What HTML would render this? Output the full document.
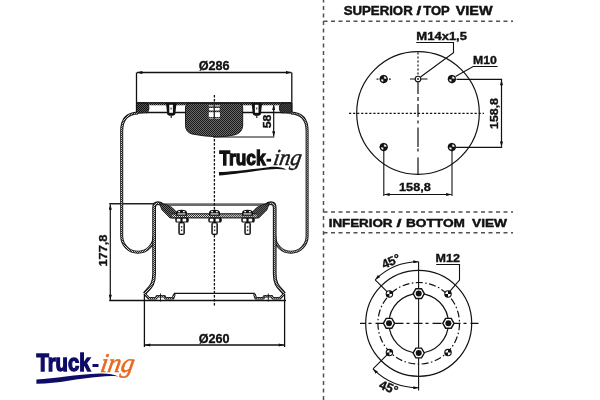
<!DOCTYPE html>
<html><head><meta charset="utf-8">
<style>
html,body{margin:0;padding:0;background:#fff;width:600px;height:400px;overflow:hidden}
svg{display:block;will-change:transform}
.ttl text{stroke-width:0.45px}
text{font-family:"Liberation Sans",sans-serif;font-weight:bold;fill:#111;stroke:#111;stroke-width:0.35px}
</style></head><body>
<svg width="600" height="400" viewBox="0 0 600 400">
<defs>
<marker id="ar" viewBox="0 0 10 6" refX="10" refY="3" markerWidth="6" markerHeight="3.2" orient="auto-start-reverse" markerUnits="userSpaceOnUse">
<path d="M0 0 L10 3 L0 6 Z" fill="#111"/>
</marker>
<pattern id="chk" width="2" height="2" patternUnits="userSpaceOnUse"><rect width="2" height="2" fill="#fff"/><rect width="1" height="1" fill="#111"/><rect x="1" y="1" width="1" height="1" fill="#111"/></pattern>
<pattern id="chkw" width="2" height="2" patternUnits="userSpaceOnUse"><rect width="2" height="2" fill="#ddd"/><rect width="1" height="1" fill="#333"/><rect x="1" y="1" width="1" height="1" fill="#333"/></pattern>
<pattern id="chkd" width="2" height="2" patternUnits="userSpaceOnUse"><rect width="2" height="2" fill="#888"/><rect width="1" height="1" fill="#111"/><rect x="1" y="1" width="1" height="1" fill="#111"/></pattern>
<pattern id="chkb" width="2" height="2" patternUnits="userSpaceOnUse"><rect width="2" height="2" fill="#6a6a6a"/><rect width="1" height="1" fill="#1a1a1a"/><rect x="1" y="1" width="1" height="1" fill="#1a1a1a"/></pattern>
<pattern id="chkx" width="2" height="2" patternUnits="userSpaceOnUse"><rect width="2" height="2" fill="#555"/><rect width="1" height="1" fill="#111"/><rect x="1" y="1" width="1" height="1" fill="#111"/></pattern>
</defs>

<!-- ===== frame dashed lines ===== -->
<g stroke="#505050" stroke-width="1.5" fill="none" stroke-dasharray="4 3.5">
<line x1="323.5" y1="-1" x2="323.5" y2="401" stroke-dashoffset="0.5"/>
<line x1="323.5" y1="21.2" x2="513" y2="21.2"/>
<line x1="323.5" y1="212" x2="513" y2="212"/>
<line x1="323.5" y1="232.8" x2="513" y2="232.8"/>
</g>

<!-- titles -->
<g font-size="12" class="ttl">
<text x="343.7" y="15.3" textLength="69" lengthAdjust="spacingAndGlyphs">SUPERIOR</text>
<text x="416.5" y="15.3" textLength="4.8" lengthAdjust="spacingAndGlyphs">/</text>
<text x="423.2" y="15.3" textLength="26.5" lengthAdjust="spacingAndGlyphs">TOP</text>
<text x="455.75" y="15.3" textLength="36.75" lengthAdjust="spacingAndGlyphs">VIEW</text>
</g>
<g font-size="11.6" class="ttl">
<text x="328.7" y="227.3" textLength="63.8" lengthAdjust="spacingAndGlyphs">INFERIOR</text>
<text x="396.5" y="227.3" textLength="5" lengthAdjust="spacingAndGlyphs">/</text>
<text x="406" y="227.3" textLength="59" lengthAdjust="spacingAndGlyphs">BOTTOM</text>
<text x="472" y="227.3" textLength="35" lengthAdjust="spacingAndGlyphs">VIEW</text>
</g>

<!-- ===== TOP VIEW ===== -->
<g fill="none" stroke="#111">
<circle cx="418" cy="113" r="61.3" stroke-width="1.2"/>
<line x1="418" y1="52.5" x2="418" y2="76" stroke-width="1.2" stroke-dasharray="2 2"/>
<line x1="418" y1="82" x2="418" y2="174.5" stroke-width="1.2" stroke-dasharray="12 3 4 3 13 3.5 3 4 19.5 1.5 3 6 20"/>
<line x1="349" y1="113.3" x2="484" y2="113.3" stroke-width="1.3" stroke-dasharray="2.2 1.85"/>
<!-- crosshair ticks -->
<path d="M376.6 79.1 H378.4 M389 79.1 H390.8" stroke-width="1.2"/>
<line x1="410" y1="79" x2="427.5" y2="79" stroke-width="1"/>
<!-- extension lines -->
<line x1="456.5" y1="79.4" x2="502.2" y2="79.4" stroke-width="1.2"/>
<line x1="456" y1="147.4" x2="502.2" y2="147.4" stroke-width="1.2"/>
<line x1="383.8" y1="151" x2="383.8" y2="196" stroke-width="1.1"/>
<line x1="452" y1="151" x2="452" y2="196" stroke-width="1.1"/>
<!-- dim lines -->
<line x1="501.5" y1="80" x2="501.5" y2="146.8" stroke-width="1.2" marker-start="url(#ar)" marker-end="url(#ar)"/>
<line x1="384.3" y1="194.5" x2="451.5" y2="194.5" stroke-width="1.1" marker-start="url(#ar)" marker-end="url(#ar)"/>
<!-- leaders -->
<polyline points="416.3,42.5 453.5,42.5 453.5,52.6 420.5,77" stroke-width="1.1"/>
<polyline points="497.5,66.5 473.1,66.5 455.5,76.5" stroke-width="1.1"/>
</g>
<!-- holes -->
<g id="hole">
<circle cx="383.7" cy="79.1" r="3.4" fill="#fff" stroke="#111" stroke-width="1.3"/>
<path d="M383.7 79.1 L380.3 79.1 A3.4 3.4 0 0 1 383.7 75.7 Z M383.7 79.1 L387.1 79.1 A3.4 3.4 0 0 1 383.7 82.5 Z" fill="#111"/>
<path d="M383.7 74.8 V83.4 M379.4 79.1 H388" stroke="#111" stroke-width="0.8"/>
</g>
<use href="#hole" x="68.2" y="0"/>
<use href="#hole" x="0" y="68"/>
<use href="#hole" x="68.2" y="68"/>
<circle cx="418" cy="79" r="2.8" fill="#fff" stroke="#111" stroke-width="1.1"/>
<circle cx="418" cy="79" r="0.9" fill="#111"/>

<text x="416.3" y="40.4" font-size="10.2" textLength="50.7" lengthAdjust="spacingAndGlyphs">M14x1,5</text>
<text x="473.1" y="64.4" font-size="11" textLength="23.8" lengthAdjust="spacingAndGlyphs">M10</text>
<text x="399" y="190.8" font-size="11.6" textLength="31.8" lengthAdjust="spacingAndGlyphs">158,8</text>
<text transform="translate(498,129) rotate(-90)" font-size="11.2" textLength="31" lengthAdjust="spacingAndGlyphs">158,8</text>

<!-- ===== BOTTOM VIEW ===== -->
<g fill="none" stroke="#111">
<circle cx="418.7" cy="323.3" r="53" stroke-width="1.2"/>
<circle cx="418.7" cy="323.3" r="40.8" stroke-width="1.2" stroke-dasharray="7 2.5 1.5 2.5"/>
<circle cx="418.7" cy="323.3" r="29.7" stroke-width="1.2"/>
<line x1="360" y1="323.3" x2="478.5" y2="323.3" stroke-width="1.2" stroke-dasharray="9 3 3 4" stroke-dashoffset="3.5"/>
<line x1="418.6" y1="261.8" x2="418.6" y2="390.5" stroke-width="1.1"/>
<!-- 45 arcs -->
<path d="M418.6 261.8 A61.5 61.5 0 0 0 375.2 279.8" stroke-width="1.1" marker-start="url(#ar)" marker-end="url(#ar)"/>
<path d="M418.6 387.8 A64.5 64.5 0 0 1 373 368.9" stroke-width="1.1" marker-start="url(#ar)" marker-end="url(#ar)"/>
<line x1="375.2" y1="279.8" x2="390" y2="294.6" stroke-width="1.1"/>
<line x1="373" y1="368.9" x2="390" y2="351.9" stroke-width="1.1"/>
<polyline points="436.2,264.5 459.5,264.5 459.5,280 449.4,291.9" stroke-width="1.1"/>
</g>
<!-- small holes -->
<g id="sh">
<circle cx="389.4" cy="294" r="3.2" fill="#fff" stroke="#111" stroke-width="1.1"/>
<path d="M389.4 294 L389.4 290.8 A3.2 3.2 0 0 1 392.6 294 Z M389.4 294 L389.4 297.2 A3.2 3.2 0 0 1 386.2 294 Z" fill="#111"/>
</g>
<use href="#sh" x="58.6" y="0"/>
<use href="#sh" x="0" y="58.6"/>
<use href="#sh" x="58.6" y="58.6"/>
<!-- hex nuts -->
<g id="hx">
<polygon points="424.3,293.6 421.5,298.5 415.9,298.5 413.1,293.6 415.9,288.7 421.5,288.7" fill="#fff" stroke="#111" stroke-width="1.4"/>
<circle cx="418.7" cy="293.6" r="3" fill="#111"/>
</g>
<use href="#hx" x="0" y="59.4"/>
<use href="#hx" x="-29.7" y="29.7"/>
<use href="#hx" x="29.7" y="29.7"/>

<text x="435.6" y="261.9" font-size="11" textLength="24.4" lengthAdjust="spacingAndGlyphs">M12</text>
<text transform="translate(384,269) rotate(-24)" font-size="12.5">45°</text>
<text transform="translate(378.3,388) rotate(22)" font-size="12.6">45°</text>

<!-- ===== SIDE VIEW ===== -->
<g fill="none" stroke="#111">
<!-- dim 286 -->
<line x1="136.5" y1="72.5" x2="136.5" y2="113" stroke-width="1.3"/>
<line x1="291.8" y1="72.5" x2="291.8" y2="113" stroke-width="1.3"/>
<line x1="137" y1="72.5" x2="291.3" y2="72.5" stroke-width="1.3" marker-start="url(#ar)" marker-end="url(#ar)"/>
<!-- dim 58 -->
<line x1="273.7" y1="104.6" x2="273.7" y2="136.6" stroke-width="1.2" marker-start="url(#ar)" marker-end="url(#ar)"/>
<line x1="213" y1="137" x2="274.3" y2="137" stroke-width="1.2"/>
<!-- dim 177.8 -->
<line x1="109.2" y1="203.8" x2="154" y2="203.8" stroke="#222" stroke-width="1.4"/>
<line x1="162" y1="204.6" x2="266.8" y2="204.6" stroke="#6a6a6a" stroke-width="2.6"/>
<line x1="110.3" y1="204.5" x2="110.3" y2="300" stroke-width="1.2" marker-start="url(#ar)" marker-end="url(#ar)"/>
<line x1="109.2" y1="300.5" x2="286" y2="300.5" stroke-width="1.3"/>
<!-- dim 260 -->
<line x1="144.4" y1="293.5" x2="144.4" y2="347" stroke-width="1.3"/>
<line x1="284.6" y1="293.5" x2="284.6" y2="347" stroke-width="1.3"/>
<line x1="144.9" y1="345" x2="284.1" y2="345" stroke-width="1.3" marker-start="url(#ar)" marker-end="url(#ar)"/>
<!-- center line -->
<line x1="214.4" y1="95" x2="214.4" y2="307" stroke-width="1.3" stroke-dasharray="2.4 1.6"/>
</g>

<!-- top plate -->
<g>
<rect x="136.5" y="102.3" width="155.3" height="3" fill="url(#chkd)"/>
<line x1="136.5" y1="102.9" x2="291.8" y2="102.9" stroke="#111" stroke-width="1.2"/>
<line x1="146" y1="112.5" x2="284" y2="112.5" stroke="#111" stroke-width="1.3"/>
<g id="beadL">
<path d="M136.5 103 L146 103 C149.5 104,149.8 110,147 112.8 L137 113.3 L136.5 113.3 Z" fill="url(#chkx)" stroke="#111" stroke-width="1"/>
</g>
<use href="#beadL" transform="translate(428.3,0) scale(-1,1)"/>
<!-- studs -->
<g id="stud">
<path d="M166 103 L176.5 103 L175.3 114 Q175 115.8 171.2 115.8 Q167.4 115.8 167.2 114 Z" fill="#111"/>
<rect x="169.3" y="104.8" width="3.6" height="8" fill="#fff"/>
<rect x="170.5" y="107.5" width="1.2" height="2" fill="#444"/>
<line x1="171.2" y1="115.5" x2="171.2" y2="118" stroke="#111" stroke-width="1.1"/>
</g>
<use href="#stud" x="85.6"/>
<!-- center block -->
<path d="M185.5 108 Q185.5 103.3 190 103.3 L238.2 103.3 Q242.7 103.3 242.7 108 L242.7 125 Q242.7 132.5 235 134.8 Q228 136.6 217 136.8 Q204 136.4 192 134 Q185.5 132 185.5 125.5 Z" fill="url(#chkb)" stroke="#111" stroke-width="0.9"/>
<rect x="208.8" y="105.1" width="11.1" height="1.4" fill="#bbb"/>
<path d="M208.8 108.1 L219.9 108.1 L219.3 110.6 L209.4 110.6 Z" fill="#fff"/>
<rect x="208.8" y="112.2" width="11.1" height="4.8" fill="#fff"/>
<rect x="208.8" y="117.9" width="11.1" height="0.8" fill="#bbb"/>
<rect x="213.6" y="104.5" width="1.3" height="14.5" fill="#222"/>
</g>

<!-- bellows + piston: left half, mirrored for right -->
<g id="halfL">
<path d="M138 113 C127 113.3,121.7 119,121.7 131 L121.7 236 A16.2 16.2 0 0 0 154.1 236" fill="none" stroke="#111" stroke-width="3"/>
<path d="M138 113 C127 113.3,121.7 119,121.7 131 L121.7 236 A16.2 16.2 0 0 0 154.1 236" fill="none" stroke="url(#chkw)" stroke-width="1.2"/>
<path d="M144.5 293.6 C149.5 287.5,154.1 285.5,154.1 274 L154.1 207.5 Q154.1 203.2,158 203.2 Q160.8 203.2,163.3 206 L172 214.5" fill="none" stroke="#111" stroke-width="3.7" stroke-linejoin="round"/>
<path d="M144.5 293.6 C149.5 287.5,154.1 285.5,154.1 274 L154.1 207.5 Q154.1 203.2,158 203.2 Q160.8 203.2,163.3 206 L172 214.5" fill="none" stroke="url(#chkw)" stroke-width="1.6" stroke-linejoin="round"/>
<path d="M159.5 203.6 L166 204.5 L172 207.5 L178 213.6 L177 218 L170 218 L162 210 Z" fill="url(#chkb)" stroke="#111" stroke-width="0.8"/>
<rect x="172" y="213.6" width="42.4" height="4.5" fill="url(#chkw)"/>
<line x1="172" y1="213.8" x2="214.4" y2="213.8" stroke="#111" stroke-width="1"/>
<line x1="172" y1="217.9" x2="214.4" y2="217.9" stroke="#111" stroke-width="1"/>
<!-- base -->
<path d="M144.6 293.8 L149 298.3 L156 298.3 L157 296.2 L164.5 296.2 L165.5 298.3 L173 298.3 L174.5 294" fill="none" stroke="#111" stroke-width="2.6" stroke-linejoin="round"/>
<path d="M144.6 293.8 L149 298.3 L156 298.3 L157 296.2 L164.5 296.2 L165.5 298.3 L173 298.3 L174.5 294" fill="none" stroke="url(#chkw)" stroke-width="1" stroke-linejoin="round"/>
<line x1="174" y1="293.4" x2="214.4" y2="293.4" stroke="#111" stroke-width="1.3"/>
<line x1="160.5" y1="293.5" x2="160.5" y2="301.5" stroke="#111" stroke-width="0.9"/>
</g>
<use href="#halfL" transform="translate(428.8,0) scale(-1,1)"/>

<!-- bolts -->
<g id="bolt">
<path d="M176 215.8 L176 212.8 Q176 209.8 181.5 209.8 Q187 209.8 187 212.8 L187 215.8 Z" fill="#111"/>
<rect x="178.3" y="211" width="1.8" height="1.3" fill="#fff"/>
<rect x="182.9" y="211" width="1.8" height="1.3" fill="#fff"/>
<rect x="177.5" y="213.4" width="8" height="1.1" fill="#fff"/>
<rect x="175.3" y="217.6" width="13.4" height="5" rx="1.6" fill="#111"/>
<rect x="176.8" y="218.7" width="3.6" height="2.8" fill="#fff"/>
<rect x="182.6" y="218.7" width="3.6" height="2.8" fill="#fff"/>
<rect x="178.3" y="222" width="6.6" height="13" rx="2" fill="#111"/>
<rect x="179.8" y="223.4" width="3.6" height="10.2" fill="#fff"/>
<rect x="180.9" y="226" width="1.4" height="1.6" fill="#333"/>
<rect x="180.9" y="229.5" width="1.4" height="1.6" fill="#333"/>
</g>
<use href="#bolt" x="33" y="0"/>
<use href="#bolt" x="66" y="0"/>

<!-- logo center -->
<g>
<text x="219.5" y="165" font-size="21" textLength="46" lengthAdjust="spacingAndGlyphs" style="fill:#111;stroke:#111;stroke-width:1.3px">Truck</text>
<rect x="266.5" y="158.8" width="4.6" height="2.8" fill="#111"/>
<text transform="translate(272.5,165.2) skewX(-10)" font-size="23" font-style="italic" textLength="28" lengthAdjust="spacingAndGlyphs" style="fill:#1a1a1a;stroke:#1a1a1a;stroke-width:0.5px;font-weight:normal;font-family:'Liberation Serif',serif">ing</text>
<path d="M219 172 C232 171.6,250 169.5,268 167.2 C276 166.4,282 167,286.5 169.8 C280 168.6,275 168.8,268 169.4 C250 171.5,232 174.8,219 175.4 Z" fill="#111"/>
</g>

<!-- logo bottom-left -->
<g>
<text x="36.4" y="370.8" font-size="24.4" textLength="54" lengthAdjust="spacingAndGlyphs" style="fill:#0e0c68;stroke:#0e0c68;stroke-width:1.4px">Truck</text>
<rect x="92.5" y="364" width="6" height="3" fill="#0e0c68"/>
<text transform="translate(99.5,371.5) skewX(-10)" font-size="27" font-style="italic" textLength="33.5" lengthAdjust="spacingAndGlyphs" style="fill:#e8681e;stroke:#e8681e;stroke-width:0.55px;font-weight:normal;font-family:'Liberation Serif',serif">ing</text>
<path d="M36.4 379.5 C55 378.8,75 374.5,100 373.6 C108 373.4,114 374.5,118.5 376.5 C112 375.8,106 376.2,100 376.7 C78 378,58 383.8,36.4 383.7 Z" fill="#0e0c68"/>
</g>

<!-- dimension texts side view -->
<text x="198.75" y="70.4" font-size="12.6" textLength="30.9" lengthAdjust="spacingAndGlyphs">Ø286</text>
<text x="198.75" y="342.6" font-size="12.6" textLength="30.9" lengthAdjust="spacingAndGlyphs">Ø260</text>
<text transform="translate(271.4,128.2) rotate(-90)" font-size="11.4" textLength="13.6" lengthAdjust="spacingAndGlyphs">58</text>
<text transform="translate(106.9,266.5) rotate(-90)" font-size="11.8" textLength="31.9" lengthAdjust="spacingAndGlyphs">177,8</text>
</svg>
</body></html>
